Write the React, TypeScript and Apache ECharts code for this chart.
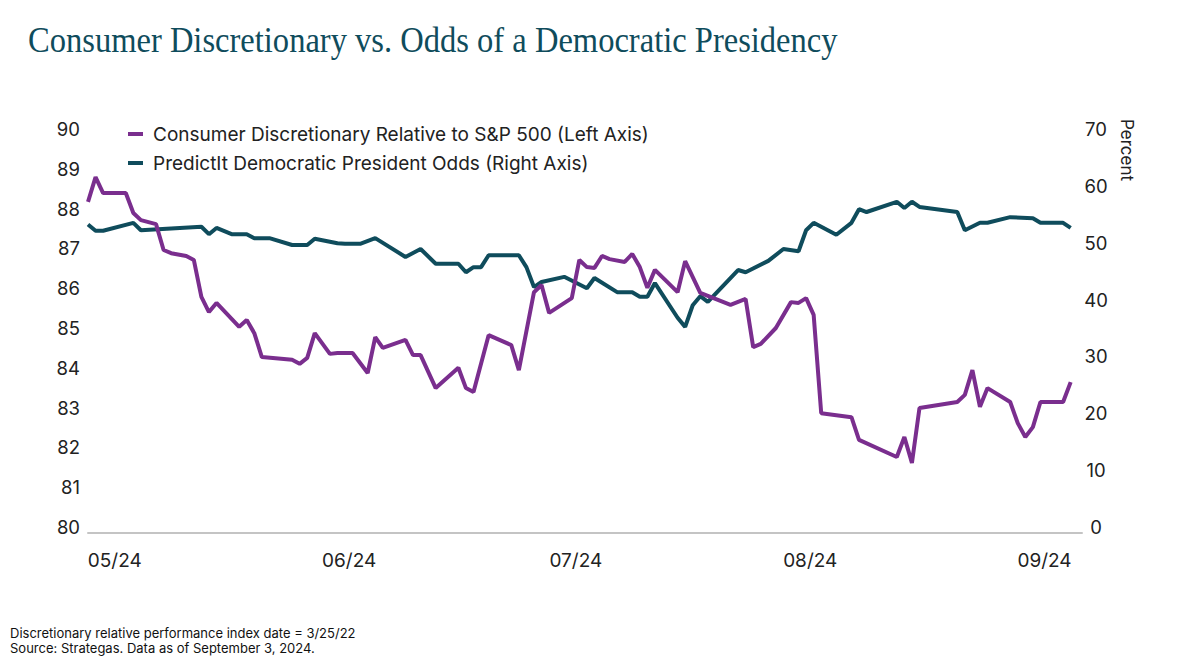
import React, { useEffect, useRef } from 'react';
import * as echarts from 'echarts';

// Consumer Discretionary relative to S&P 500 (left axis)
const consumerDates = [
  '2024-04-26', '2024-04-27', '2024-04-28', '2024-05-01', '2024-05-02', '2024-05-03', '2024-05-05',
  '2024-05-06', '2024-05-07', '2024-05-09', '2024-05-10', '2024-05-11', '2024-05-12', '2024-05-13',
  '2024-05-16', '2024-05-17', '2024-05-18', '2024-05-19', '2024-05-23', '2024-05-24', '2024-05-25',
  '2024-05-26', '2024-05-28', '2024-05-29', '2024-05-31', '2024-06-02', '2024-06-03', '2024-06-04',
  '2024-06-07', '2024-06-08', '2024-06-09', '2024-06-11', '2024-06-14', '2024-06-15', '2024-06-16',
  '2024-06-18', '2024-06-21', '2024-06-22', '2024-06-24', '2024-06-25', '2024-06-26', '2024-06-29',
  '2024-06-30', '2024-07-01', '2024-07-02', '2024-07-03', '2024-07-04', '2024-07-06', '2024-07-07',
  '2024-07-08', '2024-07-09', '2024-07-10', '2024-07-13', '2024-07-14', '2024-07-16', '2024-07-20',
  '2024-07-22', '2024-07-23', '2024-07-24', '2024-07-26', '2024-07-28', '2024-07-29', '2024-07-30',
  '2024-07-31', '2024-08-01', '2024-08-05', '2024-08-06', '2024-08-11', '2024-08-12', '2024-08-13',
  '2024-08-14', '2024-08-19', '2024-08-20', '2024-08-21', '2024-08-22', '2024-08-23', '2024-08-26',
  '2024-08-27', '2024-08-28', '2024-08-29', '2024-08-30', '2024-09-02', '2024-09-03',
];
const consumerValues = [
  88.17, 88.79, 88.39, 88.39, 87.89, 87.71, 87.61,
  86.96, 86.88, 86.81, 86.71, 85.78, 85.4, 85.63,
  85.03, 85.2, 84.87, 84.27, 84.2, 84.1, 84.25,
  84.87, 84.35, 84.37, 84.37, 83.87, 84.77, 84.5,
  84.7, 84.32, 84.32, 83.49, 84.0, 83.49, 83.39,
  84.82, 84.57, 83.94, 85.9, 86.08, 85.38, 85.75,
  86.71, 86.53, 86.51, 86.81, 86.73, 86.66, 86.86,
  86.53, 86.01, 86.46, 85.9, 86.68, 85.88, 85.58,
  85.73, 84.52, 84.6, 85.0, 85.65, 85.63, 85.75,
  85.33, 82.86, 82.76, 82.19, 81.76, 82.26, 81.61,
  82.99, 83.14, 83.32, 83.94, 83.02, 83.49, 83.14,
  82.61, 82.26, 82.51, 83.14, 83.14, 83.64,
];

// PredictIt Democratic president odds, percent (right axis)
const predictDates = [
  '2024-04-26', '2024-04-27', '2024-04-28', '2024-05-02', '2024-05-03', '2024-05-11', '2024-05-12',
  '2024-05-13', '2024-05-15', '2024-05-17', '2024-05-18', '2024-05-20', '2024-05-23', '2024-05-25',
  '2024-05-26', '2024-05-29', '2024-05-30', '2024-06-01', '2024-06-03', '2024-06-07', '2024-06-09',
  '2024-06-11', '2024-06-14', '2024-06-15', '2024-06-16', '2024-06-17', '2024-06-18', '2024-06-22',
  '2024-06-23', '2024-06-24', '2024-06-25', '2024-06-28', '2024-07-01', '2024-07-02', '2024-07-05',
  '2024-07-07', '2024-07-08', '2024-07-09', '2024-07-10', '2024-07-13', '2024-07-14', '2024-07-15',
  '2024-07-16', '2024-07-17', '2024-07-21', '2024-07-22', '2024-07-25', '2024-07-27', '2024-07-29',
  '2024-07-30', '2024-07-31', '2024-08-03', '2024-08-05', '2024-08-06', '2024-08-07', '2024-08-11',
  '2024-08-12', '2024-08-13', '2024-08-14', '2024-08-19', '2024-08-20', '2024-08-22', '2024-08-23',
  '2024-08-26', '2024-08-29', '2024-08-30', '2024-09-02', '2024-09-03',
];
const predictValues = [
  53.2, 52.1, 52.1, 53.5, 52.2, 52.8, 51.5,
  52.6, 51.5, 51.5, 50.8, 50.8, 49.6, 49.6,
  50.7, 49.9, 49.8, 49.8, 50.8, 47.5, 48.9,
  46.3, 46.3, 44.8, 45.7, 45.7, 47.8, 47.8,
  45.7, 42.2, 43.1, 44.0, 42.0, 43.8, 41.3,
  41.3, 40.5, 40.5, 42.9, 36.8, 35.2, 39.0,
  40.6, 39.6, 45.2, 44.8, 46.8, 48.9, 48.5,
  52.2, 53.5, 51.4, 53.5, 55.9, 55.4, 57.2,
  56.1, 57.2, 56.3, 55.4, 52.2, 53.5, 53.5,
  54.5, 54.3, 53.5, 53.5, 52.6,
];

const leftAxisRange = [80, 90, 1];
const rightAxisRange = [0, 70, 10];

const seriesNames = [
  'Consumer Discretionary Relative to S&P 500 (Left Axis)',
  'PredictIt Democratic President Odds (Right Axis)',
];

const PURPLE = '#7a2e8e';
const TEAL = '#0f4c5c';
const DAY = 86400000;

export default function App() {
  const chartRef = useRef<HTMLDivElement>(null);

  useEffect(() => {
    const chart = echarts.init(chartRef.current, null, { renderer: 'svg' });
    const xMin = new Date(2024, 3, 26).getTime();

    const option = {
      animation: false,
      textStyle: { fontFamily: 'Inter' },
      grid: { left: 88, right: 118, top: 129, height: 398 },
      legend: {
        orient: 'vertical',
        left: 128,
        top: 123,
        padding: 0,
        icon: 'rect',
        itemWidth: 15,
        itemHeight: 4,
        itemGap: 7,
        data: seriesNames,
        textStyle: { fontSize: 19, color: '#222', lineHeight: 22, padding: [0, 0, 0, 5] },
      },
      xAxis: {
        type: 'time',
        min: xMin,
        max: xMin + 131.5 * DAY,
        minInterval: 28 * DAY,
        offset: 6,
        axisLine: { onZero: false, lineStyle: { color: '#c4c4c4', width: 2 } },
        axisTick: { show: false },
        splitLine: { show: false },
        axisLabel: {
          fontSize: 19,
          color: '#222',
          margin: 18,
          padding: [0, 22, 0, 0],
          formatter: (v: number) => {
            const d = new Date(v);
            if (d.getDate() !== 1) return '';
            return String(d.getMonth() + 1).padStart(2, '0') + '/' + String(d.getFullYear()).slice(2);
          },
        },
      },
      yAxis: [
        {
          type: 'value',
          min: leftAxisRange[0],
          max: leftAxisRange[1],
          interval: leftAxisRange[2],
          axisLine: { show: false },
          axisTick: { show: false },
          splitLine: { show: false },
          axisLabel: { fontSize: 18.5, color: '#222', margin: 8 },
        },
        {
          type: 'value',
          position: 'right',
          min: rightAxisRange[0],
          max: rightAxisRange[1],
          interval: rightAxisRange[2],
          axisLine: { show: false },
          axisTick: { show: false },
          splitLine: { show: false },
          axisLabel: { fontSize: 18.5, color: '#222', margin: 14, align: 'center' },
        },
      ],
      series: [
        {
          name: seriesNames[0],
          type: 'line',
          yAxisIndex: 0,
          z: 3,
          showSymbol: false,
          symbol: 'none',
          color: PURPLE,
          lineStyle: { width: 4, color: PURPLE },
          data: consumerDates.map((d, i) => [d, consumerValues[i]]),
        },
        {
          name: seriesNames[1],
          type: 'line',
          yAxisIndex: 1,
          z: 2,
          showSymbol: false,
          symbol: 'none',
          color: TEAL,
          lineStyle: { width: 4, color: TEAL },
          data: predictDates.map((d, i) => [d, predictValues[i]]),
        },
      ],
      graphic: [
        {
          type: 'text',
          x: 28,
          y: 40,
          scaleX: 0.93,
          style: {
            text: 'Consumer Discretionary vs. Odds of a Democratic Presidency',
            font: '35px "Liberation Serif"',
            fill: TEAL,
            verticalAlign: 'middle',
          },
        },
        {
          type: 'text',
          x: 1135,
          y: 119,
          rotation: -Math.PI / 2,
          style: {
            text: 'Percent',
            font: '17px Inter',
            fill: '#222',
          },
        },
        {
          type: 'text',
          x: 10,
          y: 633,
          style: {
            text: 'Discretionary relative performance index date = 3/25/22',
            font: '13px Inter',
            fill: '#111',
            verticalAlign: 'middle',
          },
        },
        {
          type: 'text',
          x: 10,
          y: 648,
          style: {
            text: 'Source: Strategas. Data as of September 3, 2024.',
            font: '13px Inter',
            fill: '#111',
            verticalAlign: 'middle',
          },
        },
      ],
    };

    chart.setOption(option);
    return () => {
      chart.dispose();
    };
  }, []);

  return (
    <div
      ref={chartRef}
      style={{ position: 'fixed', left: 0, top: 0, width: 1200, height: 671, background: '#fff' }}
    />
  );
}
